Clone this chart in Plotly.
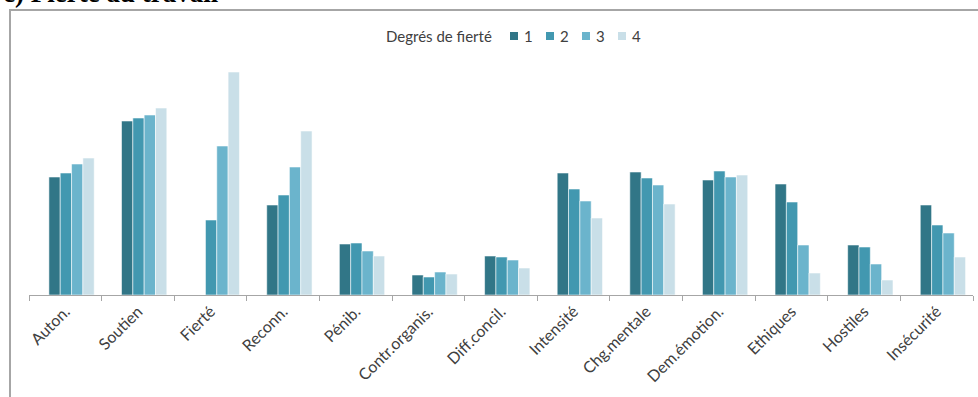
import plotly.graph_objects as go

# Indicateurs de conditions de travail, par degré de fierté au travail
categories = ["Auton.", "Soutien", "Fierté", "Reconn.", "Pénib.", "Contr.organis.",
              "Diff.concil.", "Intensité", "Chg.mentale", "Dem.émotion.",
              "Ethiques", "Hostiles", "Insécurité"]

degre_1 = [118, 174, None, 90, 51, 20, 39, 122, 123, 115, 111, 50, 90]
degre_2 = [122, 177, 75, 100, 52, 18, 38, 106, 117, 124, 93, 48, 70]
degre_3 = [131, 180, 149, 128, 44, 23, 35, 94, 110, 118, 50, 31, 62]
degre_4 = [137, 187, 223, 164, 39, 21, 27, 77, 91, 120, 22, 15, 38]

series_names = ["1", "2", "3", "4"]
series_values = [degre_1, degre_2, degre_3, degre_4]
series_colors = ["#317687", "#4298b0", "#6bb4cc", "#c9dfe8"]
legend_title = "Degrés de fierté"

W, H = 978, 397
ml, mr, mt, mb = 29, 5, 55, 102
pw, ph = W - ml - mr, H - mt - mb


def px_x(p):
    return (p - ml) / pw


def px_y(p):
    return (H - mb - p) / ph


# bar width and group placement, in category units
bar_w = 0.156
group_start = -0.226

fig = go.Figure()
for k, (name, vals, col) in enumerate(zip(series_names, series_values, series_colors)):
    fig.add_trace(go.Bar(
        x=categories, y=vals, name=name,
        width=bar_w, offset=group_start + k * bar_w,
        marker=dict(color=col, line=dict(color="rgba(255,255,255,0.55)", width=1)),
        showlegend=False,
    ))

shapes = [dict(
    type="rect", xref="paper", yref="paper",
    x0=px_x(10), x1=px_x(990), y0=px_y(420), y1=px_y(10),
    line=dict(color="#a6a6a6", width=2), fillcolor="rgba(0,0,0,0)",
    layer="below",
)]
annotations = [dict(
    text="<b>c) Fierté au travail</b>", xref="paper", yref="paper",
    x=px_x(1), xanchor="left", y=px_y(10), yanchor="bottom",
    showarrow=False, font=dict(family="Liberation Serif, serif", size=27, color="black"),
)]

# legend row: title, then a small swatch and label per series
leg_y = 36
annotations.append(dict(
    text=legend_title, xref="paper", yref="paper",
    x=px_x(494), xanchor="right", y=px_y(leg_y), yanchor="middle",
    showarrow=False, font=dict(size=15, color="#404040"),
))
for k, (name, col) in enumerate(zip(series_names, series_colors)):
    x0 = 510 + 36 * k
    shapes.append(dict(
        type="rect", xref="paper", yref="paper",
        x0=px_x(x0), x1=px_x(x0 + 8), y0=px_y(leg_y + 4), y1=px_y(leg_y - 4),
        line=dict(width=0), fillcolor=col,
    ))
    annotations.append(dict(
        text=name, xref="paper", yref="paper",
        x=px_x(x0 + 12), xanchor="left", y=px_y(leg_y), yanchor="middle",
        showarrow=False, font=dict(size=15, color="#404040"),
    ))

fig.update_layout(
    width=W, height=H,
    margin=dict(l=ml, r=mr, t=mt, b=mb),
    paper_bgcolor="white", plot_bgcolor="white",
    barmode="overlay",
    font=dict(family="Lato, 'Open Sans', sans-serif", color="#404040"),
    showlegend=False,
    xaxis=dict(
        showline=True, linecolor="#a6a6a6", linewidth=1,
        ticks="outside", tickson="boundaries", ticklen=5, tickcolor="#a6a6a6",
        tickangle=-45, tickfont=dict(size=16, color="#404040"),
        showgrid=False, zeroline=False, fixedrange=True,
        range=[-0.5, len(categories) - 0.5],
    ),
    yaxis=dict(visible=False, range=[0, ph], fixedrange=True),
    shapes=shapes,
    annotations=annotations,
)

fig.write_html("out.html")
